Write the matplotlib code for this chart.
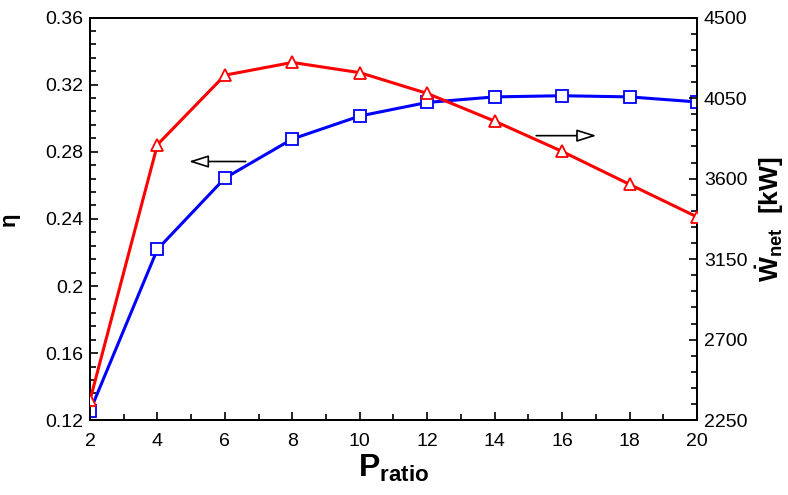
import matplotlib
matplotlib.use("Agg")
import matplotlib.pyplot as plt
import numpy as np

# pressure ratio and the two curves
p_ratio = [2, 4, 6, 8, 10, 12, 14, 16, 18, 20]
eta = [0.1254, 0.2219, 0.2643, 0.2876, 0.3013, 0.3094, 0.3127, 0.3134, 0.3127, 0.3097]
w_net = [2362, 3790, 4178, 4249, 4192, 4076, 3921, 3752, 3568, 3386]

eta_ticks = [0.12, 0.16, 0.2, 0.24, 0.28, 0.32, 0.36]
eta_labels = ["0.12", "0.16", "0.2", "0.24", "0.28", "0.32", "0.36"]
w_ticks = [2250, 2700, 3150, 3600, 4050, 4500]
x_ticks = [2, 4, 6, 8, 10, 12, 14, 16, 18, 20]

plt.rcParams['font.family'] = ['Liberation Sans', 'DejaVu Sans']
plt.rcParams['mathtext.fontset'] = 'custom'
plt.rcParams['mathtext.rm'] = 'Liberation Sans'
plt.rcParams['mathtext.it'] = 'Liberation Sans:italic'
plt.rcParams['mathtext.bf'] = 'Liberation Sans:bold'

fig = plt.figure(figsize=(7.88, 4.95), dpi=100)
ax = fig.add_axes([0.1142, 0.151, 0.7703, 0.8136])
ax2 = ax.twinx()

ax.plot(p_ratio, eta, color="blue", lw=2.2, marker="s", ms=9,
        mfc="white", mec="blue", mew=1.3, zorder=3)
ax2.plot(p_ratio, w_net, color="red", lw=2.2, marker="^", ms=9,
         mfc="white", mec="red", mew=1.3, zorder=3)

ax.set_xlim(2, 20)
ax.set_ylim(0.12, 0.36)
ax2.set_ylim(2250, 4500)

ax.set_xticks(x_ticks)
ax.set_xticks(np.arange(3, 20, 2), minor=True)
ax.set_yticks(eta_ticks)
ax.set_yticklabels(eta_labels)
ax.set_yticks(np.arange(0.12, 0.3601, 0.008), minor=True)
ax2.set_yticks(w_ticks)
ax2.set_yticks(np.arange(2250, 4501, 90), minor=True)

for a in (ax, ax2):
    a.tick_params(which="both", direction="in", labelsize=14, width=1.2)
    a.tick_params(which="major", length=6)
    a.tick_params(which="minor", length=4)
    a.tick_params(axis="y", pad=5)
    for s in a.spines.values():
        s.set_linewidth(1.3)
ax.tick_params(axis="x", pad=9)
ax.tick_params(axis="y", right=False)
ax.tick_params(axis="x", top=False)

ax.set_xlabel(r"$\mathbf{P_{ratio}}$", fontsize=23, labelpad=2)
ax.set_ylabel("η", fontsize=16, fontweight="bold", labelpad=18)
ax2.set_ylabel(r"$\mathbf{\dot{W}_{net}}$  [kW]", fontsize=19, fontweight="bold", labelpad=4)

# direction arrows with open heads
ax.annotate("", xy=(4.85, 0.2742), xytext=(6.7, 0.2742),
            arrowprops=dict(arrowstyle="-|>,head_length=1.2,head_width=0.38",
                            fc="white", ec="black", lw=1.2))
ax.annotate("", xy=(17.1, 0.2896), xytext=(15.15, 0.2896),
            arrowprops=dict(arrowstyle="-|>,head_length=1.2,head_width=0.38",
                            fc="white", ec="black", lw=1.2))

fig.savefig("out.png", dpi=100)
